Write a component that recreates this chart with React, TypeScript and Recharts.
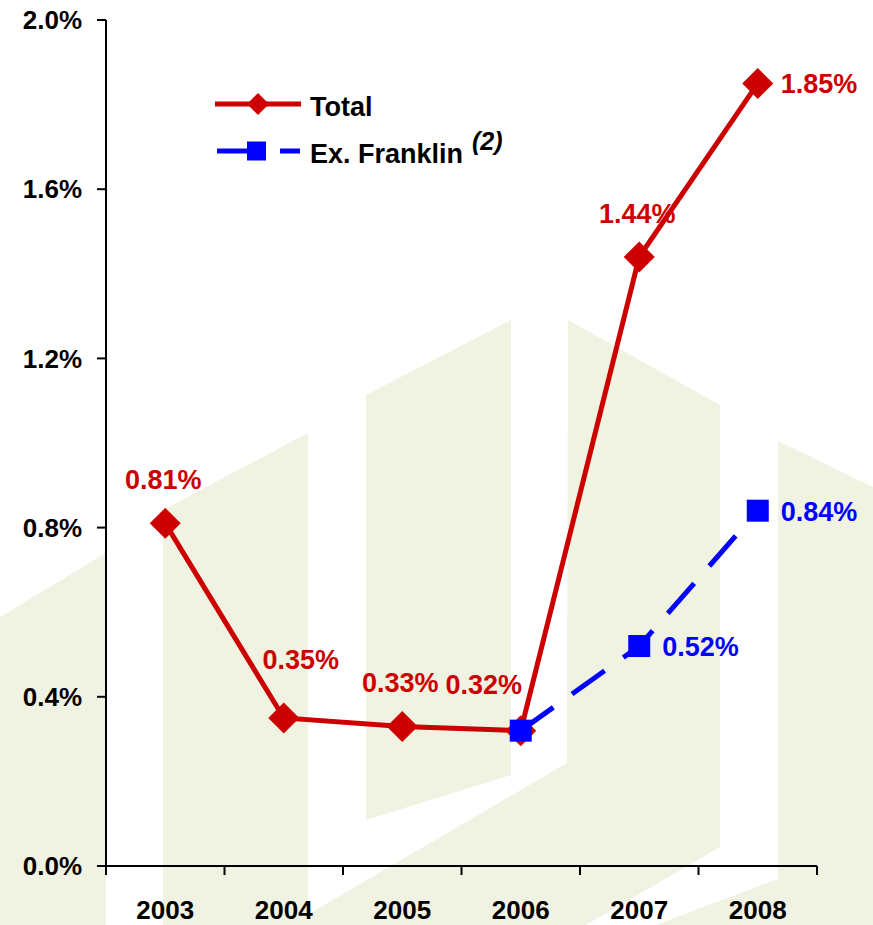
import React from 'react';
import { LineChart, Line, XAxis, YAxis, Legend, LabelList } from 'recharts';

// Fiscal years on the category axis
const years = ['2003', '2004', '2005', '2006', '2007', '2008'];
// Ratio in percent, all loans
const totalValues = [0.81, 0.35, 0.33, 0.32, 1.44, 1.85];
// Ratio in percent excluding Franklin (starts in 2006)
const exFranklinValues: (number | null)[] = [null, null, null, 0.32, 0.52, 0.84];
// Value axis ticks, percent
const yTicks = [0, 0.4, 0.8, 1.2, 1.6, 2.0];
// Where each value label sits relative to its point
const totalLabelSpots = ['above', 'aboveRight', 'above', 'aboveLeft', 'above', 'right'];
const exFranklinLabelSpots = ['none', 'none', 'none', 'none', 'right', 'right'];

const RED = '#cc0000';
const BLUE = '#0000ff';
const PALE = '#f0f2e2';
const FONT = '"Liberation Sans", Arial, Helvetica, sans-serif';

const data = years.map((year, i) => ({
  year,
  total: totalValues[i],
  exFranklin: exFranklinValues[i],
}));

const W = 873;
const H = 925;

// Faint logo artwork behind the plot
const watermark: string[] = [
  '0,617 106,553 106,925 0,925',
  '163,510 308,433 308,925 163,925',
  '366,395 511,320 511,775 366,820',
  '568,320 720,405 720,847 586,925 290,925 567,763',
  '778,441 873,487 873,925 656,925 778,879',
];

const Watermark = () => (
  <svg width={W} height={H} style={{ position: 'absolute', left: 0, top: 0 }}>
    {watermark.map((pts, i) => (
      <polygon key={i} points={pts} fill={PALE} />
    ))}
  </svg>
);

const Diamond = (props: any) => {
  const { cx, cy, key } = props;
  if (cx == null || cy == null) return <g key={key} />;
  const r = 15.5;
  return (
    <polygon
      key={key}
      points={`${cx},${cy - r} ${cx + r},${cy} ${cx},${cy + r} ${cx - r},${cy}`}
      fill={RED}
    />
  );
};

const Square = (props: any) => {
  const { cx, cy, key } = props;
  if (cx == null || cy == null) return <g key={key} />;
  const s = 11;
  return <rect key={key} x={cx - s} y={cy - s} width={s * 2} height={s * 2} fill={BLUE} />;
};

// Year label centred in its band, with tick marks on the band boundaries
const YearTick = (props: any) => {
  const { x, y, payload, index, visibleTicksCount, width } = props;
  const half =
    payload && typeof payload.offset === 'number' && payload.offset > 0
      ? payload.offset
      : width / visibleTicksCount / 2;
  const last = index === visibleTicksCount - 1;
  return (
    <g>
      <line x1={x - half} y1={y} x2={x - half} y2={y + 9} stroke="#000" strokeWidth={2} />
      {last && <line x1={x + half} y1={y} x2={x + half} y2={y + 9} stroke="#000" strokeWidth={2} />}
      <text
        x={x}
        y={y + 53}
        textAnchor="middle"
        fill="#000"
        fontSize={26}
        fontWeight={700}
        fontFamily={FONT}
      >
        {payload.value}
      </text>
    </g>
  );
};

const makeLabel = (spots: string[], color: string) => (props: any) => {
  const { x, y, value, index } = props;
  const spot = spots[index];
  if (value == null || spot === 'none' || x == null || y == null) return null;
  let dx = 0;
  let dy = 0;
  let anchor: 'start' | 'middle' | 'end' = 'middle';
  if (spot === 'above') {
    dx = -2;
    dy = -34;
  } else if (spot === 'aboveRight') {
    dx = 17;
    dy = -49;
  } else if (spot === 'aboveLeft') {
    dx = -37;
    dy = -37;
  } else if (spot === 'right') {
    dx = 23;
    dy = 10;
    anchor = 'start';
  }
  return (
    <text
      x={x + dx}
      y={y + dy}
      textAnchor={anchor}
      fill={color}
      fontSize={27}
      fontWeight={700}
      fontFamily={FONT}
    >
      {`${Number(value).toFixed(2)}%`}
    </text>
  );
};

const LegendBox = (props: any) => {
  const payload: any[] = props.payload || [];
  const find = (k: string) => payload.find((p) => p.dataKey === k);
  const tot = find('total');
  const exf = find('exFranklin');
  return (
    <svg width={330} height={100} style={{ overflow: 'visible' }}>
      <g transform="translate(-200,-80)">
        {tot && (
          <g>
            <line x1={215} y1={104} x2={301} y2={104} stroke={tot.color} strokeWidth={5} />
            <polygon points="258,93 269,104 258,115 247,104" fill={tot.color} />
            <text x={310} y={116} fontSize={27} fontWeight={700} fontFamily={FONT} fill="#000">
              {tot.value}
            </text>
          </g>
        )}
        {exf && (
          <g>
            <line x1={217} y1={151} x2={257} y2={151} stroke={exf.color} strokeWidth={5} />
            <line x1={280} y1={151} x2={300} y2={151} stroke={exf.color} strokeWidth={5} />
            <rect x={247} y={141.5} width={19} height={19} fill={exf.color} />
            <text x={310} y={163} fontSize={27} fontWeight={700} fontFamily={FONT} fill="#000">
              {exf.value}
            </text>
            <text
              x={472}
              y={150}
              fontSize={25}
              fontWeight={700}
              fontStyle="italic"
              fontFamily={FONT}
              fill="#000"
            >
              (2)
            </text>
          </g>
        )}
      </g>
    </svg>
  );
};

export default function App() {
  return (
    <div style={{ position: 'absolute', left: 0, top: 0, width: W, height: H, background: '#fff' }}>
      <Watermark />
      <div style={{ position: 'absolute', left: 0, top: 0 }}>
        <LineChart width={W} height={H} data={data} margin={{ top: 20, right: 56, bottom: 0, left: 0 }}>
          <XAxis
            dataKey="year"
            scale="band"
            interval={0}
            height={59}
            tickLine={false}
            axisLine={{ stroke: '#000', strokeWidth: 2 }}
            tickSize={0}
            tickMargin={0}
            tick={<YearTick />}
          />
          <YAxis
            domain={[0, 2]}
            ticks={yTicks}
            interval={0}
            width={106}
            allowDataOverflow
            tickFormatter={(v: number) => `${v.toFixed(1)}%`}
            axisLine={{ stroke: '#000', strokeWidth: 2 }}
            tickLine={{ stroke: '#000', strokeWidth: 2 }}
            tickSize={9}
            tickMargin={15}
            tick={{ fill: '#000', fontSize: 26, fontWeight: 700, fontFamily: FONT }}
          />
          <Legend
            layout="horizontal"
            verticalAlign="middle"
            align="center"
            content={<LegendBox />}
            wrapperStyle={{ left: 200, top: 80, width: 330, height: 100 }}
          />
          <Line
            dataKey="total"
            name="Total"
            stroke={RED}
            strokeWidth={5}
            dot={Diamond}
            activeDot={false}
            isAnimationActive={false}
          >
            <LabelList dataKey="total" content={makeLabel(totalLabelSpots, RED)} />
          </Line>
          <Line
            dataKey="exFranklin"
            name="Ex. Franklin"
            stroke={BLUE}
            strokeWidth={5}
            strokeDasharray="40 23"
            dot={Square}
            activeDot={false}
            isAnimationActive={false}
          >
            <LabelList dataKey="exFranklin" content={makeLabel(exFranklinLabelSpots, BLUE)} />
          </Line>
        </LineChart>
      </div>
    </div>
  );
}
